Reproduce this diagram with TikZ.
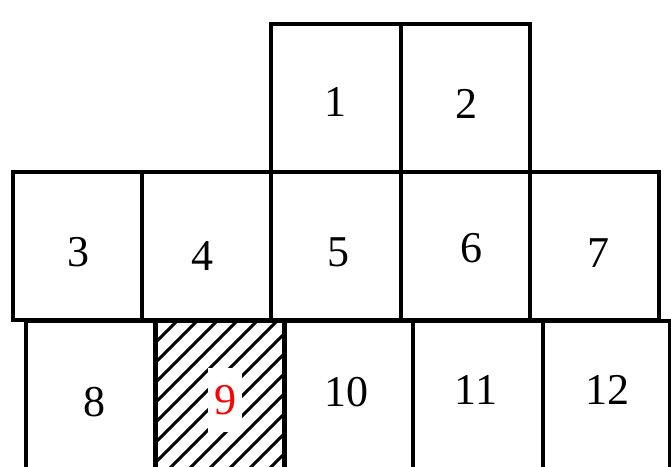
\documentclass[tikz,border=0pt]{standalone}
\usepackage{fontspec}
\setmainfont{Liberation Serif}
\newfontfamily\numserif{Liberation Serif}
\begin{document}
\begin{tikzpicture}[x=1pt,y=-1pt,
  cellbox/.style={draw=black, line width=3.3pt, rectangle, inner sep=0pt},
  numlabel/.style={font=\numserif\fontsize{44}{50}\selectfont, inner sep=0pt},
  hatchline/.style={line width=3pt, black}]
\useasboundingbox (0,0) rectangle (671,466);
\clip (0,0) rectangle (671,466);
\foreach \n/\a/\b/\c/\d in {1/271/24/401/172, 2/401/24/530/172,
  3/13/172/142/320, 4/142/172/271/320, 5/271/172/401/320, 6/401/172/530/320, 7/530/172/659/320,
  8/26/321/155/490, 9/156/321/284/490, 10/284/321/413/490, 11/413/321/543/490, 12/543/321/670/490}
  \node[cellbox, minimum width={(\c-\a)*1pt}, minimum height={(\d-\b)*1pt}] (b\n) at ({(\a+\c)/2},{(\b+\d)/2}) {};
\begin{scope}
  \clip (b9.north west) rectangle (b9.south east);
  \foreach \k in {-1,...,16}
    \draw[hatchline] ({158+20*\k},320) -- ++(-220,220);
\end{scope}
\draw[line width=3.3pt] (b9.north west) rectangle (b9.south east);
\node[numlabel] (t1) at (335,102) {1};
\node[numlabel] (t2) at (466,104) {2};
\node[numlabel] (t3) at (78,252) {3};
\node[numlabel] (t4) at (202,256) {4};
\node[numlabel] (t5) at (338,252) {5};
\node[numlabel] (t6) at (471,248) {6};
\node[numlabel] (t7) at (598,253) {7};
\node[numlabel] (t8) at (94,402) {8};
\node[numlabel, text=red, fill=white, inner xsep=6pt, minimum height=64pt] (t9) at (225,400) {9};
\node[numlabel] (t10) at (346,392) {10};
\node[numlabel] (t11) at (476,390) {11};
\node[numlabel] (t12) at (607,390) {12};
\end{tikzpicture}
\end{document}
